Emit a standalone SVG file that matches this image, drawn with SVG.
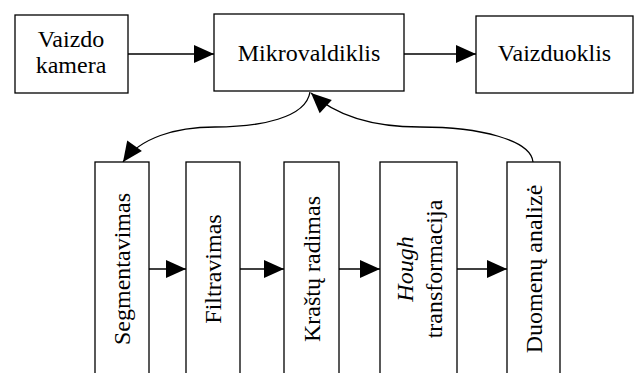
<svg xmlns="http://www.w3.org/2000/svg" width="636" height="373" viewBox="0 0 636 373">
<style>
.box{fill:#fff;stroke:#000;stroke-width:1.3}
.t{font-family:"Liberation Serif","Times New Roman",serif;font-size:24px;fill:#000;text-anchor:middle}
.c{fill:none;stroke:#000;stroke-width:1.3}
</style>
<defs>
<marker id="ah" markerUnits="userSpaceOnUse" markerWidth="20" markerHeight="18" refX="20" refY="9" orient="auto" overflow="visible">
<path d="M0,0 L20,9 L0,18 Z" fill="#000"/>
</marker>
</defs>
<rect width="636" height="373" fill="#fff"/>
<g id="connectors">
<line class="c" x1="128" y1="54" x2="214" y2="54" marker-end="url(#ah)"/>
<line class="c" x1="404" y1="54" x2="476" y2="54" marker-end="url(#ah)"/>
<path class="c" d="M310,92 C306,118 260,127 215,127 C175,127 140,138 123,162" marker-end="url(#ah)"/>
<path class="c" d="M533,162 C531,140 480,127 420,127 C370,127 335,115 311,93" marker-end="url(#ah)"/>
<line class="c" x1="149" y1="269" x2="186" y2="269" marker-end="url(#ah)"/>
<line class="c" x1="240" y1="269" x2="284" y2="269" marker-end="url(#ah)"/>
<line class="c" x1="339" y1="269" x2="380" y2="269" marker-end="url(#ah)"/>
<line class="c" x1="457" y1="269" x2="507" y2="269" marker-end="url(#ah)"/>
</g>
<g id="camera">
<rect class="box" x="15" y="15" width="113" height="78"/>
<text class="t" x="71" y="47">Vaizdo</text>
<text class="t" x="71" y="73">kamera</text>
</g>
<g id="mcu">
<rect class="box" x="214" y="14" width="190" height="77"/>
<text class="t" x="309" y="61">Mikrovaldiklis</text>
</g>
<g id="display">
<rect class="box" x="476" y="16" width="157" height="77"/>
<text class="t" x="554.5" y="61">Vaizduoklis</text>
</g>
<g id="seg">
<rect class="box" x="95" y="162" width="54" height="220"/>
<text class="t" transform="translate(130,269) rotate(-90)">Segmentavimas</text>
</g>
<g id="filt">
<rect class="box" x="186" y="162" width="54" height="220"/>
<text class="t" transform="translate(221,269) rotate(-90)">Filtravimas</text>
</g>
<g id="edge">
<rect class="box" x="284" y="162" width="55" height="220"/>
<text class="t" transform="translate(320,269) rotate(-90)">Krašt<tspan>ų</tspan> radimas</text>
</g>
<g id="hough">
<rect class="box" x="380" y="162" width="77" height="220"/>
<text class="t" transform="translate(412.5,269) rotate(-90)" font-style="italic">Hough</text>
<text class="t" transform="translate(441.5,269) rotate(-90)">transformacija</text>
</g>
<g id="data">
<rect class="box" x="507" y="162" width="53" height="220"/>
<text class="t" transform="translate(542,269) rotate(-90)">Duomenų analizė</text>
</g>
</svg>
